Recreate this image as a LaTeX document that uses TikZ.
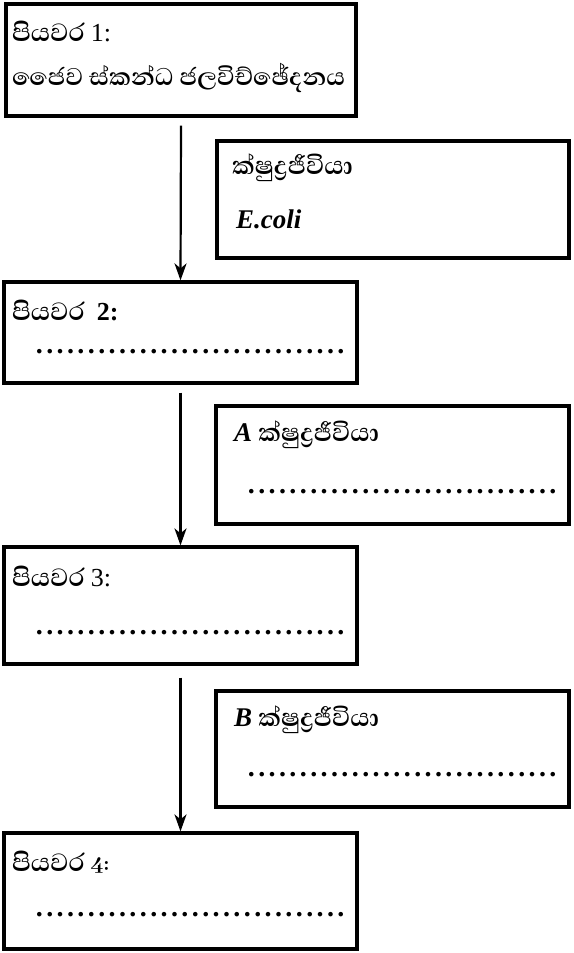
\documentclass[tikz,border=0pt]{standalone}
\usepackage{fontspec}
\setmainfont{Liberation Serif}
\newfontfamily\sinhalafont[Script=Sinhala]{Abhaya Libre}
\usetikzlibrary{arrows.meta}
\newcommand\dotrow[1]{\hbox to #1{\xleaders\hbox to 10.4pt{\hss\bfseries.\hss}\hfill}}
\begin{document}
\begin{tikzpicture}[x=1pt,y=-1pt,
  stepbox/.style={draw, line width=3.2pt, inner sep=0pt},
  lbl/.style={anchor=west, inner sep=0pt, font=\fontsize{32}{36}\selectfont\sinhalafont\bfseries},
  dotline/.style={anchor=west, inner sep=0pt, font=\fontsize{28}{30}\selectfont},
  arr/.style={line width=2.2pt, -{Stealth[length=17pt,width=12pt,inset=5pt]}}]
\useasboundingbox (0,0) rectangle (573,953);
% main step boxes
\node[stepbox, minimum width=350pt, minimum height=112pt] (b1) at (181,60) {};
\node[stepbox, minimum width=353pt, minimum height=101pt] (b2) at (180.5,332.5) {};
\node[stepbox, minimum width=353pt, minimum height=117pt] (b3) at (180.5,605.5) {};
\node[stepbox, minimum width=353pt, minimum height=116pt] (b4) at (180.5,891) {};
% side boxes
\node[stepbox, minimum width=352pt, minimum height=117pt] (s1) at (393,199.5) {};
\node[stepbox, minimum width=353pt, minimum height=118pt] (sa) at (392.5,465) {};
\node[stepbox, minimum width=353pt, minimum height=116pt] (sb) at (392.5,749) {};
% texts
\node[lbl] (t1) at (12,31) {පියවර {\rmfamily\mdseries\fontsize{26}{28}\selectfont 1:}};
\node[lbl, font=\fontsize{31}{34}\selectfont\sinhalafont\bfseries] (t1b) at (12,78) {ජෛව ස්කන්ධ ජලවිච්ඡේදනය};
\node[lbl] (ts1) at (232,168) {ක්ෂුද^^^^0dca^^^^200dරජීවියා};
\node[lbl, font=\fontsize{27}{30}\selectfont\bfseries\itshape] (ts1b) at (236,219) {E.coli};
\node[lbl] (t2) at (12,310) {පියවර\ \ {\rmfamily\fontsize{26}{28}\selectfont 2:}};
\node[dotline] (d2) at (34,352) {\dotrow{312pt}};
\node[lbl] (tsa) at (234,435) {{\rmfamily\bfseries\itshape\fontsize{27}{30}\selectfont A} ක්ෂුද^^^^0dca^^^^200dරජීවියා};
\node[dotline] (da) at (246,492) {\dotrow{312pt}};
\node[lbl] (t3) at (12,576) {පියවර {\rmfamily\mdseries\fontsize{26}{28}\selectfont 3:}};
\node[dotline] (d3) at (34,633) {\dotrow{312pt}};
\node[lbl] (tsb) at (234,720) {{\rmfamily\bfseries\itshape\fontsize{27}{30}\selectfont B} ක්ෂුද^^^^0dca^^^^200dරජීවියා};
\node[dotline] (db) at (246,775) {\dotrow{312pt}};
\node[lbl] (t4) at (12,862) {පියවර {\fontsize{26}{28}\selectfont 4:}};
\node[dotline] (d4) at (34,915) {\dotrow{312pt}};
% arrows
\draw[arr] ([yshift=-8pt]b1.south) -- (b2.north);
\draw[arr] ([yshift=-8pt]b2.south) -- (b3.north);
\draw[arr] ([yshift=-12pt]b3.south) -- (b4.north);
\end{tikzpicture}
\end{document}
